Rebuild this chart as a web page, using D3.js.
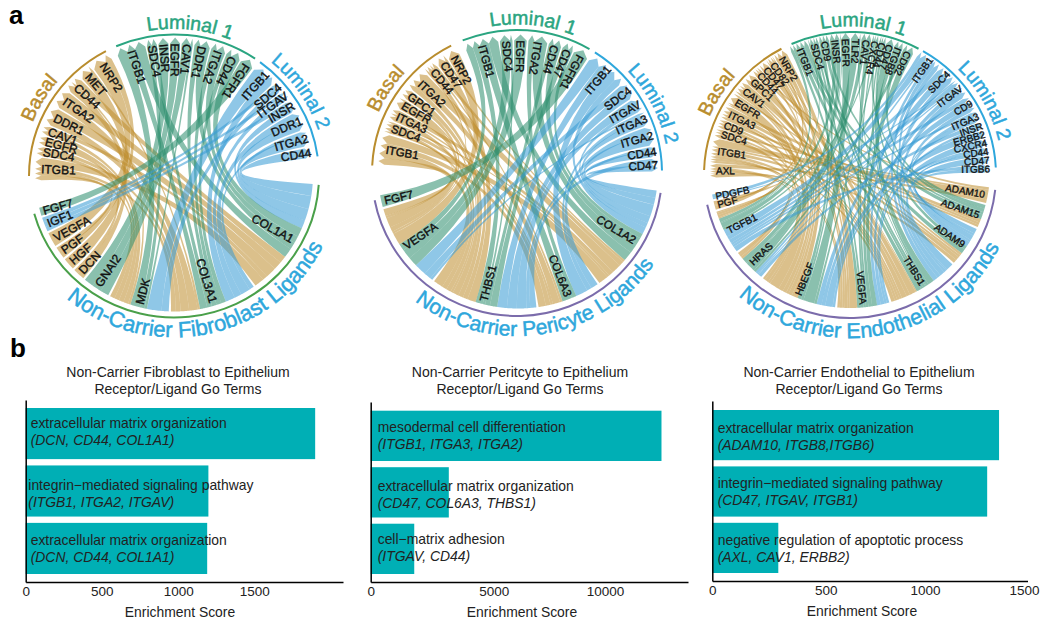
<!DOCTYPE html>
<html><head><meta charset="utf-8">
<script src="https://cdn.jsdelivr.net/npm/d3@7"></script>
<style>html,body{margin:0;padding:0;background:#fff}svg{display:block}text{font-family:"Liberation Sans",Arial,sans-serif}</style>
</head><body><svg id="c" width="1050" height="627"></svg>
<script>
// ---------- DATA: chord panels ----------
const fibBasal=["ITGB1","SDC4","EGFR","CAV1","DDR1","ITGA2","CD44","MET","NRP2"];
const fibBasalShare=[10,4,4,4,8,8,7,6,9];
const fibLum1=["ITGB1","SDC4","INSR","EGFR","CAV1","DDR1","ITGA2","CD44","FGFR1"];
const fibLum1Share=[13,4.5,4.5,4.5,5,7,6.5,6.5,6];
const fibLum2=["ITGB1","SDC4","ITGAV","INSR","DDR1","ITGA2","CD44"];
const fibLum2Share=[10,4,4,5,8,6.5,4.5];
const fibLigands=["COL1A1","COL3A1","MDK","GNAI2","DCN","HGF","PGF","VEGFA","IGF1","FGF7"];
const fibLinks=[
["COL1A1","L2","CD44",5],["COL1A1","L2","ITGA2",5.5],["COL1A1","L2","DDR1",5],["COL1A1","L2","INSR",3.5],
["COL1A1","L1","ITGB1",4],["COL1A1","L1","DDR1",3],["COL1A1","L1","ITGA2",3],["COL1A1","L1","CD44",3.7],
["COL1A1","B","ITGB1",4],["COL1A1","B","CAV1",2],["COL1A1","B","DDR1",4.5],["COL1A1","B","ITGA2",3.5],["COL1A1","B","CD44",3],
["COL3A1","L2","ITGA2",2],["COL3A1","L2","DDR1",4],["COL3A1","L2","ITGAV",3],["COL3A1","L2","ITGB1",4],
["COL3A1","L1","ITGB1",3],["COL3A1","L1","SDC4",2],["COL3A1","L1","DDR1",2],["COL3A1","L1","ITGA2",2],["COL3A1","L1","CD44",2],
["COL3A1","B","ITGB1",2],["COL3A1","B","SDC4",2],["COL3A1","B","DDR1",3.5],["COL3A1","B","ITGA2",3.5],["COL3A1","B","MET",1],
["MDK","L2","ITGB1",6],["MDK","L2","SDC4",3],
["MDK","L1","ITGB1",4],["MDK","L1","SDC4",2],["MDK","L1","CAV1",1],
["MDK","B","ITGB1",2],["MDK","B","SDC4",2],["MDK","B","EGFR",2],["MDK","B","CD44",1],["MDK","B","CAV1",2],
["GNAI2","L1","INSR",4],["GNAI2","L1","EGFR",4],["GNAI2","L1","CAV1",3.5],
["DCN","B","CD44",3],["DCN","B","EGFR",2],["HGF","B","MET",5],["PGF","B","NRP2",3],["PGF","B","ITGB1",2],
["VEGFA","B","NRP2",6],["IGF1","L2","ITGAV",2],["IGF1","L2","INSR",2],["IGF1","L2","SDC4",2],["FGF7","L1","FGFR1",3.5]];

const perBasal=["ITGB1","SDC4","ITGA3","EGFR","GPC1","ITGA2","CD44","CD47","NRP2"];
const perBasalShare=[13,5,5,4.5,4,9,5,4.5,5];
const perLum1=["ITGB1","SDC4","EGFR","ITGA2","CD44","CD47","FGFR1"];
const perLum1Share=[15.7,6,6,9,6,5,7];
const perLum2=["ITGB1","SDC4","ITGAV","ITGA3","ITGA2","CD44","CD47"];
const perLum2Share=[17,7,6,6,8,4.5,5.5];
const perLigands=["COL1A2","COL6A3","THBS1","VEGFA","FGF7"];
const perLinks=[
["COL1A2","L2","CD47",3],["COL1A2","L2","CD44",3],["COL1A2","L2","ITGA2",5],["COL1A2","L2","ITGA3",3],["COL1A2","L2","ITGAV",2],["COL1A2","L2","ITGB1",3],
["COL1A2","L1","ITGB1",4],["COL1A2","L1","ITGA2",4],["COL1A2","L1","CD44",3],["COL1A2","L1","CD47",2],
["COL1A2","B","ITGB1",4],["COL1A2","B","ITGA3",2],["COL1A2","B","ITGA2",4],["COL1A2","B","SDC4",1],["COL1A2","B","CD47",1],["COL1A2","B","CD44",2],
["COL6A3","L2","ITGA2",3],["COL6A3","L2","ITGA3",2],["COL6A3","L2","ITGB1",5],
["COL6A3","L1","ITGB1",4],["COL6A3","L1","ITGA2",2],
["COL6A3","B","ITGB1",3],["COL6A3","B","ITGA3",1],["COL6A3","B","ITGA2",3],["COL6A3","B","CD44",1],["COL6A3","B","SDC4",2],
["THBS1","L2","CD47",2.5],["THBS1","L2","CD44",1.5],["THBS1","L2","ITGAV",4],["THBS1","L2","SDC4",4],["THBS1","L2","ITGB1",4],
["THBS1","L1","ITGB1",3],["THBS1","L1","CD44",2],["THBS1","L1","CD47",3],["THBS1","L1","SDC4",1],
["THBS1","B","ITGB1",4],["THBS1","B","SDC4",2],["THBS1","B","ITGA3",2],["THBS1","B","ITGA2",2],["THBS1","B","CD44",2],["THBS1","B","CD47",3.5],["THBS1","B","EGFR",1],["THBS1","B","GPC1",2.5],
["VEGFA","L2","ITGA3",1],["VEGFA","L2","SDC4",3],["VEGFA","L2","ITGB1",5],
["VEGFA","L1","ITGB1",3],["VEGFA","L1","SDC4",4],["VEGFA","L1","EGFR",4],
["VEGFA","B","ITGB1",3],["VEGFA","B","EGFR",4],["VEGFA","B","GPC1",2],["VEGFA","B","NRP2",5],["VEGFA","B","CD44",1],["VEGFA","B","SDC4",1],
["FGF7","L1","FGFR1",5]];

const endBasal=["AXL","ITGB1","SDC4","CD9","ITGA3","EGFR","CAV1","GPC1","CD44","CD47","CD82","NRP2"];
const endBasalShare=[6,11,4,4,6,6,6,4.5,3.5,3.5,3.5,5.5];
const endLum1=["ITGB1","SDC4","CD9","INSR","EGFR","TLR2","CAV1","CXCR4","CD44","CD47","ITGB8","CD82"];
const endLum1Share=[8.5,4.5,4.5,4.5,4.5,4.5,4.5,3,3,3.5,4,5];
const endLum2=["ITGB1","SDC4","ITGAV","CD9","ITGA3","INSR","ERBB2","CXCR4","CD44","CD47","ITGB6"];
const endLum2Share=[11,8,8.5,7,5,3.5,3.5,3.5,3.5,3.5,3.5];
const endLigands=["ADAM10","ADAM15","ADAM9","THBS1","VEGFA","HBEGF","HRAS","TGFB1","PGF","PDGFB"];
const endLinks=[
["ADAM10","B","ITGB1",3],["ADAM10","B","CD44",1],["ADAM10","B","AXL",1.5],["ADAM10","B","SDC4",1],
["ADAM15","L1","ITGB1",2],["ADAM15","L1","CD9",1],["ADAM15","L1","ITGB8",1.5],["ADAM15","L1","CXCR4",1.5],
["ADAM15","B","ITGB1",1],["ADAM15","B","ITGA3",1.5],["ADAM15","B","CD9",1],
["ADAM9","L2","ITGB1",2],["ADAM9","L2","ITGB6",2],["ADAM9","L2","ITGA3",2],["ADAM9","L2","CD9",1],["ADAM9","L2","CD44",1],
["ADAM9","L1","ITGB1",2],["ADAM9","L1","CD44",1.5],
["ADAM9","B","ITGB1",1.5],["ADAM9","B","ITGA3",1.5],["ADAM9","B","CD44",1],["ADAM9","B","EGFR",1],
["THBS1","L2","ITGB1",2],["THBS1","L2","CD47",3],["THBS1","L2","SDC4",1.5],["THBS1","L2","ITGAV",2],["THBS1","L2","ITGA3",1],["THBS1","L2","CD44",0.5],
["THBS1","L1","ITGB1",2],["THBS1","L1","CD47",2.5],["THBS1","L1","SDC4",1],["THBS1","L1","CD44",1],["THBS1","L1","CD9",1],["THBS1","L1","TLR2",0.5],
["THBS1","B","ITGB1",1.5],["THBS1","B","SDC4",1],["THBS1","B","CD47",2.5],["THBS1","B","CD9",1],["THBS1","B","ITGA3",1],["THBS1","B","CAV1",2],["THBS1","B","GPC1",1.5],["THBS1","B","CD82",0.5],
["VEGFA","L2","ITGB1",1.5],["VEGFA","L2","ITGAV",1.5],["VEGFA","L2","CXCR4",1],["VEGFA","L2","INSR",1],
["VEGFA","L1","ITGB1",1.5],["VEGFA","L1","CD82",2],["VEGFA","L1","ITGB8",1.5],["VEGFA","L1","SDC4",1],["VEGFA","L1","CXCR4",1],["VEGFA","L1","CAV1",1],
["VEGFA","B","AXL",1],["VEGFA","B","NRP2",3],["VEGFA","B","GPC1",1],["VEGFA","B","ITGB1",1],["VEGFA","B","CD82",1],["VEGFA","B","CAV1",1],
["HBEGF","L2","ERBB2",3],["HBEGF","L2","SDC4",2],["HBEGF","L2","CD9",1.5],["HBEGF","L2","CD44",1],
["HBEGF","L1","EGFR",4.5],["HBEGF","L1","CD44",1],["HBEGF","L1","CD9",1],["HBEGF","L1","SDC4",1.5],
["HBEGF","B","EGFR",4],["HBEGF","B","CD44",1.5],["HBEGF","B","CD9",1],["HBEGF","B","SDC4",1.5],["HBEGF","B","NRP2",2.5],["HBEGF","B","CAV1",2],["HBEGF","B","AXL",1],["HBEGF","B","CD47",1],["HBEGF","B","CD82",1.5],
["HRAS","L2","ITGB1",1],["HRAS","L2","ITGAV",0.5],["HRAS","L2","INSR",1.5],
["HRAS","L1","EGFR",0.5],["HRAS","L1","TLR2",3],["HRAS","L1","INSR",2],["HRAS","L1","CAV1",1],["HRAS","L1","CD82",1],
["HRAS","B","EGFR",1],["HRAS","B","ITGB1",1],["HRAS","B","CAV1",1],
["TGFB1","L2","ITGB1",3],["TGFB1","L2","ITGB6",2],["TGFB1","L2","ITGAV",1.5],["TGFB1","L2","CD9",1],["TGFB1","L2","SDC4",1.5],["TGFB1","L2","ITGA3",1],
["TGFB1","L1","ITGB1",1.5],["TGFB1","L1","INSR",2],["TGFB1","L1","CXCR4",1],["TGFB1","L1","SDC4",0.5],
["TGFB1","B","ITGB1",1],["TGFB1","B","ITGA3",1],["TGFB1","B","AXL",0.5],["TGFB1","B","CD82",0.5],
["PGF","B","NRP2",1.5],["PGF","B","AXL",1.5],["PGF","B","EGFR",0.5],
["PDGFB","L2","ITGAV",0.5],["PDGFB","L2","ITGB1",1.5]];

// ---------- DATA: bar panels ----------
const barTitles=[["Non-Carrier Fibroblast to Epithelium","Receptor/Ligand Go Terms"],["Non-Carrier Peritcyte to Epithelium","Receptor/Ligand Go Terms"],["Non-Carrier Endothelial to Epithelium","Receptor/Ligand Go Terms"]];
const fibTerms=["extracellular matrix organization","integrin\u2212mediated signaling pathway","extracellular matrix organization"];
const fibGenes=["(DCN, CD44, COL1A1)","(ITGB1, ITGA2, ITGAV)","(DCN, CD44, COL1A1)"];
const fibScores=[1898,1198,1190];
const perTerms=["mesodermal cell differentiation","extracellular matrix organization","cell\u2212matrix adhesion"];
const perGenes=["(ITGB1, ITGA3, ITGA2)","(CD47, COL6A3, THBS1)","(ITGAV, CD44)"];
const perScores=[12450,3175,1770];
const endTerms=["extracellular matrix organization","integrin\u2212mediated signaling pathway","negative regulation of apoptotic process"];
const endGenes=["(ADAM10, ITGB8,ITGB6)","(CD47, ITGAV, ITGB1)","(AXL, CAV1, ERBB2)"];
const endScores=[1374,1314,291];
const fibTicks=[0,500,1000,1500], perTicks=[0,5000,10000], endTicks=[0,500,1000,1500];

// ---------- STYLE ----------
const col={B:"#bf8f30",L1:"#2f8f6e",L2:"#379bd5"};
const arcCol={B:"#b98d2e",L1:"#2ba581",L2:"#2ea7dc"};
const titleBlue="#2ea7dc", barCol="#00afb5";
const svg=d3.select("#c");
const defs=svg.append("defs");
let uid=0;

const chords=[
 {basal:fibBasal,lum1:fibLum1,lum2:fibLum2,shares:{B:fibBasalShare,L1:fibLum1Share,L2:fibLum2Share},ligands:fibLigands,links:fibLinks,name:"Non-Carrier Fibroblast Ligands",
  ribbon:{cx:174,cy:174.5,rx:139,ry:137},ring:{cx:174,cy:176,rx:145,ry:141.5},
  spans:{B:[-92.5,-28],L1:[-25,36],L2:[37,83],G:[94,256]},
  arcs:{B:[-90,-28],L1:[-23.5,34],L2:[36.4,82],G:[93.6,254.5]},ligArc:"#4aa04a",
  titleAt:{B:-59.5,L1:6,L2:56,G:168},font:12,halo:.4,nameSize:22,gap:.7},
 {basal:perBasal,lum1:perLum1,lum2:perLum2,shares:{B:perBasalShare,L1:perLum1Share,L2:perLum2Share},ligands:perLigands,links:perLinks,name:"Non-Carrier Pericyte Ligands",
  ribbon:{cx:518,cy:171.5,rx:140,ry:137},ring:{cx:517,cy:173,rx:145,ry:143},
  spans:{B:[-87,-26],L1:[-22.7,31],L2:[32,90],G:[98,260]},
  arcs:{B:[-87,-27],L1:[-22,30],L2:[32.5,89],G:[98,259]},ligArc:"#7b6cab",
  titleAt:{B:-57,L1:6,L2:63,G:171},font:11.5,halo:.4,nameSize:21,gap:.7},
 {basal:endBasal,lum1:endLum1,lum2:endLum2,shares:{B:endBasalShare,L1:endLum1Share,L2:endLum2Share},ligands:endLigands,links:endLinks,name:"Non-Carrier Endothelial Ligands",
  ribbon:{cx:850,cy:170.5,rx:140,ry:137.5},ring:{cx:850,cy:175,rx:146,ry:143},
  spans:{B:[-93,-28],L1:[-26,28],L2:[30,91],G:[97,260]},
  arcs:{B:[-88,-28],L1:[-23.6,28],L2:[30,87],G:[96,258]},ligArc:"#7b6cab",
  titleAt:{B:-58,L1:5,L2:61,G:169},font:10,halo:.35,nameSize:21.5,gap:.35}
];

const rad=d=>d*Math.PI/180;
function pt(g,a,f=1){return [g.cx+g.rx*f*Math.sin(rad(a)),g.cy-g.ry*f*Math.cos(rad(a))];}
function arcPath(g,a0,a1,f=1){
  const [x0,y0]=pt(g,a0,f),[x1,y1]=pt(g,a1,f);
  return `M${x0},${y0}A${g.rx*f},${g.ry*f} 0 ${Math.abs(a1-a0)>180?1:0} ${a1>a0?1:0} ${x1},${y1}`;
}
function sectorScale(items,span,gap){
  const total=d3.sum(items,d=>d.share);
  const usable=span[1]-span[0]-gap*(items.length-1);
  const k=d3.scaleLinear().domain([0,total]).range([0,usable]);
  let cum=0;
  items.forEach((it,i)=>{it.a0=span[0]+k(cum)+gap*i;cum+=it.share;it.a1=span[0]+k(cum)+gap*i;});
}
function spread(ls,it){
  const s=d3.scaleLinear().domain([0,d3.sum(ls,l=>l.value)]).range([it.a0,it.a1]);
  let c=0;return ls.map(l=>{const a=s(c);c+=l.value;return [l,a,s(c)];});
}

function drawChord(cfg){
  const g=svg.append("g");
  const recIndex={B:cfg.basal,L1:cfg.lum1,L2:cfg.lum2};
  const links=cfg.links.map(l=>({lig:l[0],grp:l[1],rec:l[2],value:l[3]}));
  const ligItems=cfg.ligands.map(n=>({name:n,share:d3.sum(links.filter(l=>l.lig===n),l=>l.value)}));
  sectorScale(ligItems,cfg.spans.G,.9);
  const recItems={};
  for(const G of ["B","L1","L2"]){
    recItems[G]=recIndex[G].map((n,i)=>({name:n,share:cfg.shares[G][i]}));
    sectorScale(recItems[G],cfg.spans[G],cfg.gap);
  }
  const grpOrder={L2:0,L1:1,B:2};
  ligItems.forEach(it=>{
    const ls=links.filter(l=>l.lig===it.name).sort((p,q)=>grpOrder[p.grp]-grpOrder[q.grp]||recIndex[q.grp].indexOf(q.rec)-recIndex[p.grp].indexOf(p.rec));
    spread(ls,it).forEach(([l,a,b])=>{l.b0=a;l.b1=b;});
  });
  for(const G of ["B","L1","L2"]) recItems[G].forEach(it=>{
    const ls=links.filter(l=>l.grp===G&&l.rec===it.name).sort((p,q)=>q.b0-p.b0);
    spread(ls,it).forEach(([l,a,b])=>{l.a0=a;l.a1=b;});
  });
  const R=cfg.ribbon, shoulder=1-6/R.rx;
  const cen=[R.cx,R.cy];
  const ribbonPath=l=>{
    const p=d3.path();
    let q=pt(R,l.a0,shoulder);p.moveTo(q[0],q[1]);
    q=pt(R,(l.a0+l.a1)/2,1);p.lineTo(q[0],q[1]);
    q=pt(R,l.a1,shoulder);p.lineTo(q[0],q[1]);
    q=pt(R,l.b0);p.quadraticCurveTo(cen[0],cen[1],q[0],q[1]);
    for(let t=1;t<=10;t++){q=pt(R,l.b0+(l.b1-l.b0)*t/10);p.lineTo(q[0],q[1]);}
    q=pt(R,l.a0,shoulder);p.quadraticCurveTo(cen[0],cen[1],q[0],q[1]);
    p.closePath();return p.toString();
  };
  g.selectAll("path.rb").data(links).join("path").attr("class","rb")
   .attr("d",ribbonPath).attr("fill",d=>col[d.grp]).attr("fill-opacity",.56);
  const labels=[];
  for(const G of ["B","L1"]) recItems[G].forEach(it=>labels.push({t:it.name,a:(it.a0+it.a1)/2,outerStart:true,f:1-6/R.rx}));
  recItems.L2.forEach(it=>labels.push({t:it.name,a:(it.a0+it.a1)/2,outerStart:false,f:1}));
  ligItems.forEach(it=>labels.push({t:it.name,a:(it.a0+it.a1)/2,outerStart:(it.a0+it.a1)/2>180,f:1-3/R.rx}));
  g.selectAll("text.lb").data(labels).join("text").attr("class","lb")
   .attr("transform",d=>{const q=pt(R,d.a,d.f);return `translate(${q[0]},${q[1]}) rotate(${d.outerStart?d.a+90:d.a-90})`;})
   .attr("text-anchor",d=>d.outerStart?"start":"end").attr("dy",".35em")
   .attr("font-size",cfg.font).attr("fill","#111").attr("stroke","#111").attr("stroke-width",cfg.halo).text(d=>d.t);
  const ring=cfg.ring;
  for(const [G,c] of [["B",arcCol.B],["L1",arcCol.L1],["L2",arcCol.L2],["G",cfg.ligArc]]){
    g.append("path").attr("d",arcPath(ring,cfg.arcs[G][0],cfg.arcs[G][1])).attr("fill","none").attr("stroke",c).attr("stroke-width",2);
  }
  const T=[["B","Basal",arcCol.B,19.5,1.045,30],["L1","Luminal 1",arcCol.L1,19.5,1.04,40],["L2","Luminal 2",arcCol.L2,19.5,1.045,40]];
  T.forEach(([G,s,c,fs,f,hw])=>{
    const id="tp"+(uid++),m=cfg.titleAt[G];
    defs.append("path").attr("id",id).attr("d",arcPath(ring,m-hw,m+hw,f));
    g.append("text").attr("font-size",fs).attr("fill",c).attr("stroke",c).attr("stroke-width",.5).append("textPath")
      .attr("href","#"+id).attr("startOffset","50%").attr("text-anchor","middle").text(s);
  });
  const id="tp"+(uid++),m=cfg.titleAt.G;
  defs.append("path").attr("id",id).attr("d",arcPath(ring,m+85,m-85,1.14));
  g.append("text").attr("font-size",cfg.nameSize).attr("fill",titleBlue).attr("stroke",titleBlue).attr("stroke-width",.5).append("textPath")
    .attr("href","#"+id).attr("startOffset","50%").attr("text-anchor","middle").text(cfg.name);
}
chords.forEach(drawChord);

// ---------- bars ----------
const bars=[
 {terms:fibTerms,genes:fibGenes,scores:fibScores,ticks:fibTicks,title:barTitles[0],
  dom:[0,500,1000,1500,2080],rng:[25.7,101.7,178.3,254.3,343],axisY:582,top:400,barTop:408,barBot:574,titleX:178,labelX:180,
  textOff:[5,2.6,5],textDy:[-2,3,0.5]},
 {terms:perTerms,genes:perGenes,scores:perScores,ticks:perTicks,title:barTitles[1],
  dom:[0,5000,10000,13600],rng:[370.7,493.7,605,688],axisY:582,top:402,barTop:410.7,barBot:574,titleX:520,labelX:522,
  textOff:[7,7,7],textDy:[0,2,-1]},
 {terms:endTerms,genes:endGenes,scores:endScores,ticks:endTicks,title:barTitles[2],
  dom:[0,500,1000,1500,1517],rng:[712.3,825.7,925,1024,1027.5],axisY:581,top:401,barTop:410,barBot:573,titleX:859,labelX:862,
  textOff:[5.4,5.4,5.4],textDy:[2,0,0.5]}
];
bars.forEach(b=>{
  const g=svg.append("g");
  const x=d3.scaleLinear().domain(b.dom).range(b.rng);
  const y=d3.scaleBand().domain(d3.range(b.scores.length)).range([b.barTop,b.barBot]).paddingInner(.11);
  g.selectAll("rect").data(b.scores).join("rect")
   .attr("x",x(0)).attr("y",(d,i)=>y(i)).attr("width",d=>x(d)-x(0)).attr("height",y.bandwidth()).attr("fill",barCol);
  const ax=g.append("g").attr("transform",`translate(0,${b.axisY})`).call(d3.axisBottom(x).tickValues(b.ticks).tickSize(0).tickPadding(4.5).tickFormat(d3.format("d")));
  ax.select(".domain").attr("stroke","#000").attr("stroke-width",1.5);
  ax.selectAll("text").attr("font-size",13.5).attr("fill","#222").attr("font-family",'"Liberation Sans",Arial,sans-serif');
  const yScale=d3.scaleLinear().domain([0,1]).range([b.axisY,b.top]);
  const ay=g.append("g").attr("transform",`translate(${x(0)},0)`).call(d3.axisLeft(yScale).tickValues([]).tickSize(0));
  ay.select(".domain").attr("stroke","#000").attr("stroke-width",1.5);
  g.append("text").attr("x",b.labelX).attr("y",b.axisY+34.5).attr("text-anchor","middle").attr("font-size",13.9).attr("fill","#222").text("Enrichment Score");
  b.title.forEach((t,i)=>g.append("text").attr("x",b.titleX).attr("y",376.5+i*17).attr("text-anchor","middle").attr("font-size",14).attr("fill","#222").text(t));
  b.terms.forEach((t,i)=>{
    const cy=y(i)+y.bandwidth()/2+b.textDy[i], tx=x(0)+b.textOff[i];
    g.append("text").attr("x",tx).attr("y",cy-8.5).attr("dy",".35em").attr("font-size",13.9).attr("fill","#222").text(t);
    g.append("text").attr("x",tx).attr("y",cy+8.5).attr("dy",".35em").attr("font-size",13.9).attr("font-style","italic").attr("fill","#222").text(b.genes[i]);
  });
});
svg.append("text").attr("x",9).attr("y",24).attr("font-size",26).attr("font-weight",700).attr("fill","#000").text("a");
svg.append("text").attr("x",10).attr("y",357).attr("font-size",26).attr("font-weight",700).attr("fill","#000").text("b");
</script></body></html>
